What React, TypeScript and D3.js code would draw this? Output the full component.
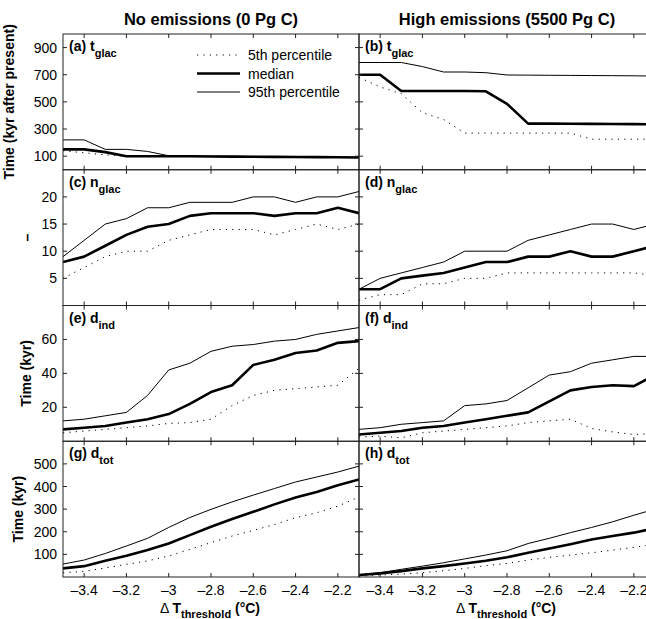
import React from "react";
import * as d3 from "d3";

// ---- data ----
const dT = [-3.5, -3.4, -3.3, -3.2, -3.1, -3.0, -2.9, -2.8, -2.7, -2.6, -2.5, -2.4, -2.3, -2.2, -2.1];
const xTicks = [-3.4, -3.2, -3, -2.8, -2.6, -2.4, -2.2];

// (a) t_glac, no emissions
const aP5 = [140, 125, 110, 100, 100, 100, 99, 98, 97, 96, 95, 94, 93, 92, 90];
const aMed = [150, 150, 130, 100, 100, 100, 99, 98, 97, 96, 95, 94, 93, 92, 90];
const aP95 = [220, 220, 150, 150, 135, 103, 102, 100, 99, 98, 97, 96, 95, 93, 92];
// (b) t_glac, high emissions
const bP5 = [680, 610, 560, 420, 370, 270, 270, 270, 270, 270, 270, 225, 225, 225, 225];
const bMed = [700, 700, 580, 580, 580, 580, 578, 485, 340, 340, 339, 338, 337, 336, 334];
const bP95 = [790, 790, 790, 760, 720, 720, 715, 698, 697, 696, 695, 694, 693, 692, 690];
// (c) n_glac, no emissions
const cP5 = [5, 7, 9, 10, 10, 12, 13, 14, 14, 14, 13, 14, 15, 14, 15];
const cMed = [8, 9, 11, 13, 14.5, 15, 16.5, 17, 17, 17, 16.5, 17, 17, 18, 17];
const cP95 = [9, 12, 15, 16, 18, 18, 19, 19, 19, 20, 20, 19, 20, 20, 21];
// (d) n_glac, high emissions
const dP5 = [1, 2, 2, 4, 4, 5, 5, 6, 6, 6, 6, 6, 6, 6, 5.5];
const dMed = [3, 3, 5, 5.5, 6, 7, 8, 8, 9, 9, 10, 9, 9, 10, 11];
const dP95 = [3, 5, 6, 7, 8, 10, 10, 10, 12, 13, 14, 15, 15, 14, 15];
// (e) d_ind, no emissions
const eP5 = [5, 6, 7, 8, 9, 10.5, 11, 13, 21, 27, 30, 31, 32, 33, 43];
const eMed = [7, 8, 9, 11, 13, 16, 22, 29, 33, 45, 48, 52, 53.5, 58, 59];
const eP95 = [12, 13, 15, 17, 27, 42, 46, 53, 56, 57, 59, 60, 63, 65, 67];
// (f) d_ind, high emissions
const fP5 = [2.5, 3, 2, 5, 6, 7, 8, 9, 11, 12, 13, 7.5, 5.5, 4, 4.5];
const fMed = [4, 5, 6, 8, 9, 11, 13, 15, 17, 23.5, 30, 32, 33, 32.5, 39];
const fP95 = [7, 8, 10, 11, 12, 21, 22, 24, 31.5, 39, 41, 46, 48, 50, 50];
// (g) d_tot, no emissions
const gP5 = [19, 25, 40, 56, 71, 93, 122, 152, 181, 206, 232, 262, 284, 313, 354];
const gMed = [38, 48, 72, 94, 119, 148, 185, 222, 256, 288, 321, 351, 376, 406, 431];
const gP95 = [57, 75, 104, 137, 171, 219, 263, 299, 332, 362, 391, 420, 442, 464, 490];
// (h) d_tot, high emissions
const hP5 = [4, 9, 13, 19, 28, 38, 50, 60, 75, 87, 97, 107, 119, 131, 145];
const hMed = [9, 16, 26, 38, 48, 60, 72, 87, 107, 126, 145, 166, 181, 196, 215];
const hP95 = [9, 19, 34, 48, 63, 80, 97, 116, 148, 171, 196, 219, 244, 273, 300];

const rowDomains: [number, number][] = [[0, 1000], [0, 25], [0, 80], [0, 600]];
const rowTicks = [[100, 300, 500, 700, 900], [5, 10, 15, 20], [20, 40, 60], [100, 200, 300, 400, 500]];
const rowYLabels = ["Time (kyr after present)", "\u2013", "Time (kyr)", "Time (kyr)"];
const rowVars = ["t", "n", "d", "d"];
const rowSubs = ["glac", "glac", "ind", "tot"];
const colTitles = ["No emissions (0 Pg C)", "High emissions (5500 Pg C)"];
const letters = ["a", "b", "c", "d", "e", "f", "g", "h"];
const legendLabels = ["5th percentile", "median", "95th percentile"];

const panelSeries = [
  [aP5, aMed, aP95], [bP5, bMed, bP95],
  [cP5, cMed, cP95], [dP5, dMed, dP95],
  [eP5, eMed, eP95], [fP5, fMed, fP95],
  [gP5, gMed, gP95], [hP5, hMed, hP95],
];

// ---- layout ----
const W = 646, H = 619;
const colX = [63, 359];
const PW = 296;
const rowTop = 34;
const PH = 135.75;
const yLabelX = [14, 32, 31, 23];
const FONT = "'Liberation Sans', Arial, Helvetica, sans-serif";

const seriesStyle = [
  { w: 1, dash: "1.2 5.2" },
  { w: 2.6, dash: undefined },
  { w: 1, dash: undefined },
];

function Panel({ idx }: { idx: number }) {
  const col = idx % 2;
  const row = Math.floor(idx / 2);
  const x0 = colX[col];
  const y0 = rowTop + row * PH;
  const x = d3.scaleLinear().domain([-3.5, -2.1]).range([x0, x0 + PW]);
  const y = d3.scaleLinear().domain(rowDomains[row]).range([y0 + PH, y0]);
  const line = d3.line<number>().x((_, i) => x(dT[i])).y((v) => y(v));
  const clipId = `clip-${idx}`;
  const tl = 4;
  return (
    <g>
      <defs>
        <clipPath id={clipId}>
          <rect x={x0} y={y0} width={PW} height={PH} />
        </clipPath>
      </defs>
      <g clipPath={`url(#${clipId})`}>
        {panelSeries[idx].map((s, k) => (
          <path key={k} d={line(s) || ""} fill="none" stroke="#000"
            strokeWidth={seriesStyle[k].w} strokeDasharray={seriesStyle[k].dash}
            strokeLinejoin="round" strokeLinecap={k === 0 ? "butt" : "butt"} />
        ))}
      </g>
      <rect x={x0} y={y0} width={PW} height={PH} fill="none" stroke="#222" strokeWidth={1} />
      {xTicks.map((t) => (
        <g key={t}>
          <line x1={x(t)} x2={x(t)} y1={y0 + PH} y2={y0 + PH - tl} stroke="#222" />
          <line x1={x(t)} x2={x(t)} y1={y0} y2={y0 + tl} stroke="#222" />
        </g>
      ))}
      {rowTicks[row].map((t) => (
        <g key={t}>
          <line x1={x0} x2={x0 + tl} y1={y(t)} y2={y(t)} stroke="#222" />
          <line x1={x0 + PW} x2={x0 + PW - tl} y1={y(t)} y2={y(t)} stroke="#222" />
        </g>
      ))}
      {col === 0 && rowTicks[row].map((t) => (
        <text key={t} x={x0 - 6} y={y(t) + 5} textAnchor="end" fontSize={14} fontFamily={FONT}>{t}</text>
      ))}
      {row === 3 && xTicks.map((t) => (
        <text key={t} x={x(t)} y={595} textAnchor="middle" fontSize={14} fontFamily={FONT}>
          {String(t).replace("-", "\u2013")}
        </text>
      ))}
      <text x={x0 + 6} y={y0 + 17} fontSize={14} fontWeight="bold" fontFamily={FONT}>
        {`(${letters[idx]}) ${rowVars[row]}`}
        <tspan fontSize={11} dy={6}>{rowSubs[row]}</tspan>
      </text>
      {idx === 0 && legendLabels.map((lab, k) => {
        const ly = 55 + k * 18.5;
        return (
          <g key={lab}>
            <line x1={197} x2={240} y1={ly} y2={ly} stroke="#000" strokeWidth={seriesStyle[k].w}
              strokeDasharray={seriesStyle[k].dash} />
            <text x={248} y={ly + 5} fontSize={14} fontFamily={FONT}>{lab}</text>
          </g>
        );
      })}
    </g>
  );
}

export default function App() {
  return (
    <div style={{ position: "absolute", left: 0, top: 0 }}>
      <svg width={W} height={H} style={{ display: "block", background: "#fff" }}>
        <rect x={0} y={0} width={W} height={H} fill="#fff" />
        {colTitles.map((t, c) => (
          <text key={t} x={colX[c] + PW / 2} y={25} textAnchor="middle" fontSize={16.5}
            fontWeight="bold" fontFamily={FONT}>{t}</text>
        ))}
        {rowYLabels.map((lab, r) => {
          const cy = rowTop + r * PH + PH / 2;
          return (
            <text key={r} transform={`translate(${yLabelX[r]},${cy}) rotate(-90)`} textAnchor="middle"
              fontSize={14} fontWeight="bold" fontFamily={FONT}>{lab}</text>
          );
        })}
        {[0, 1, 2, 3, 4, 5, 6, 7].map((i) => <Panel key={i} idx={i} />)}
        {colX.map((cx, c) => (
          <text key={c} x={cx + PW / 2 - 1} y={613} textAnchor="middle" fontSize={14} fontFamily={FONT}>
            <tspan fontWeight="normal">{"\u0394 "}</tspan>
            <tspan fontWeight="bold">T</tspan>
            <tspan fontWeight="bold" fontSize={11} dy={5}>threshold</tspan>
            <tspan fontWeight="bold" dy={-5}>{" (\u00b0C)"}</tspan>
          </text>
        ))}
      </svg>
    </div>
  );
}
